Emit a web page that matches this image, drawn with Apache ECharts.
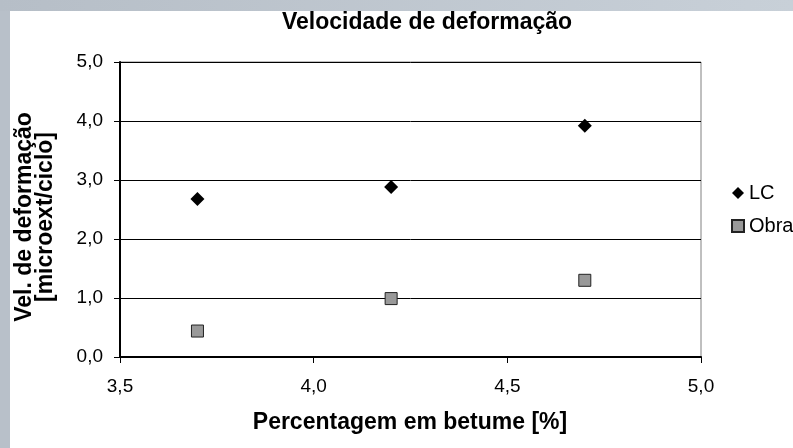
<!DOCTYPE html>
<html>
<head>
<meta charset="utf-8">
<script src="https://cdn.jsdelivr.net/npm/echarts@6/dist/echarts.min.js"></script>
<style>
  html, body { margin: 0; padding: 0; background: #ffffff; }
  #chart { width: 793px; height: 448px; }
</style>
</head>
<body>
<div id="chart"></div>
<script>
// Bitumen content (%) and deformation rate (microext/ciclo)
const seriesNames = ['LC', 'Obra'];
const betume = [3.7, 4.2, 4.7];
const lcValues = [2.68, 2.88, 3.92];
const obraValues = [0.44, 0.99, 1.30];
const xTicks = [3.5, 4.0, 4.5, 5.0];
const yTicks = [0.0, 1.0, 2.0, 3.0, 4.0, 5.0];

const titleText = 'Velocidade de deformação';
const xTitle = 'Percentagem em betume [%]';
const yTitle = 'Vel. de deformação\n[microext/ciclo]';

const FONT = 'Arial, "Liberation Sans", sans-serif';
const fmt = v => v.toFixed(1).replace('.', ',');

const chart = echarts.init(document.getElementById('chart'), null, { renderer: 'canvas' });

chart.setOption({
  backgroundColor: '#b8c0c9',
  animation: false,
  textStyle: { fontFamily: FONT },
  graphic: [
    // top frame band, lighter toward the right
    {
      type: 'rect', z: -10, shape: { x: 0, y: 0, width: 793, height: 11 },
      style: { fill: new echarts.graphic.LinearGradient(0, 0, 1, 0, [
        { offset: 0, color: '#b6bec7' }, { offset: 1, color: '#c8d0d8' }
      ]) }
    },
    // white chart area
    { type: 'rect', z: -10, shape: { x: 10, y: 11, width: 783, height: 437 }, style: { fill: '#ffffff' } },
    {
      type: 'text', x: 427, y: 23,
      style: { text: titleText, font: 'bold 23px ' + FONT, fill: '#000', textAlign: 'center', textVerticalAlign: 'middle' }
    },
    {
      type: 'text', x: 35, y: 217, rotation: Math.PI / 2,
      style: { text: yTitle, font: 'bold 23px ' + FONT, fill: '#000', textAlign: 'center', textVerticalAlign: 'middle', lineHeight: 21 }
    },
    {
      type: 'text', x: 410, y: 423,
      style: { text: xTitle, font: 'bold 23px ' + FONT, fill: '#000', textAlign: 'center', textVerticalAlign: 'middle' }
    }
  ],
  grid: {
    left: 120, top: 62, right: 92, bottom: 91,
    show: true, backgroundColor: '#ffffff', borderColor: '#808080', borderWidth: 1
  },
  legend: {
    orient: 'vertical', left: 726, top: 178,
    itemWidth: 12, itemHeight: 12, itemGap: 13,
    textStyle: { fontSize: 20, color: '#000', fontFamily: FONT },
    data: seriesNames
  },
  xAxis: {
    type: 'value',
    min: xTicks[0], max: xTicks[xTicks.length - 1], interval: 0.5,
    axisLine: { show: true, onZero: false, lineStyle: { color: '#000', width: 2 } },
    axisTick: { show: true, length: 6, lineStyle: { color: '#000', width: 1 } },
    axisLabel: { margin: 20, fontSize: 19, color: '#000', formatter: fmt },
    splitLine: { show: false }
  },
  yAxis: {
    type: 'value',
    min: yTicks[0], max: yTicks[yTicks.length - 1], interval: 1,
    axisLine: { show: true, lineStyle: { color: '#000', width: 2 } },
    axisTick: { show: true, length: 6, lineStyle: { color: '#000', width: 1 } },
    axisLabel: { margin: 17, fontSize: 19, color: '#000', formatter: fmt },
    splitLine: { show: true, lineStyle: { color: '#000', width: 1 } }
  },
  series: [
    {
      name: seriesNames[0], type: 'scatter', symbol: 'diamond', symbolSize: 14,
      itemStyle: { color: '#000000', opacity: 1 },
      data: betume.map((x, i) => [x, lcValues[i]])
    },
    {
      name: seriesNames[1], type: 'scatter', symbol: 'rect', symbolSize: 12,
      itemStyle: { color: '#999999', borderColor: '#222222', borderWidth: 1, opacity: 1 },
      data: betume.map((x, i) => [x, obraValues[i]])
    }
  ]
});
</script>
</body>
</html>
